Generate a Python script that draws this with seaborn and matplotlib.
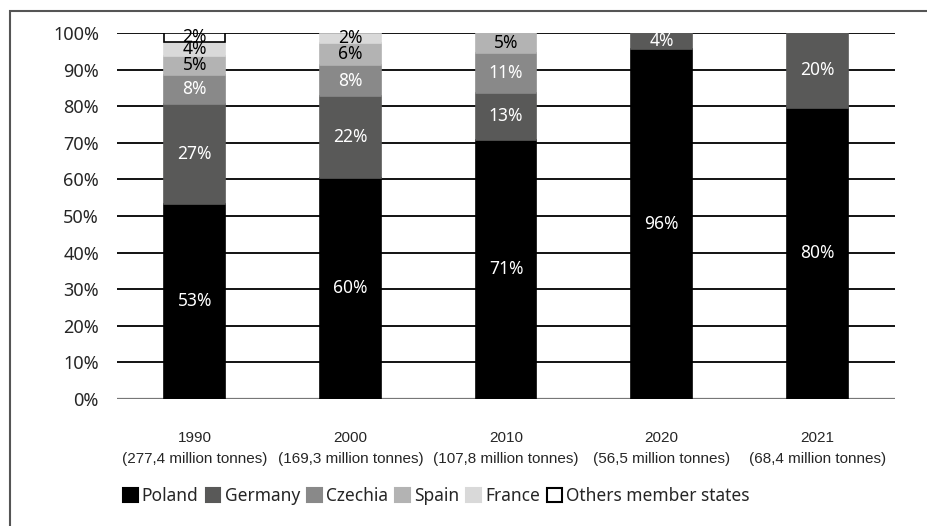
import numpy as np
import pandas as pd
import seaborn as sns
import matplotlib.pyplot as plt
from matplotlib.patches import Patch, Rectangle

# Data (share of hard coal production, %)
years = ['1990', '2000', '2010', '2020', '2021']
tonnes = ['277,4', '169,3', '107,8', '56,5', '68,4']
countries = ['Poland', 'Germany', 'Czechia', 'Spain', 'France', 'Others member states']
poland = [53.3, 60.4, 70.8, 95.6, 79.6]
germany = [27.4, 22.4, 12.8, 4.4, 20.4]
czechia = [7.9, 8.4, 11.0, 0, 0]
spain = [5.1, 6.2, 5.4, 0, 0]
france = [3.9, 2.4, 0, 0, 0]
others = [2.4, 0, 0, 0, 0]

colors = ['#000000', '#595958', '#898989', '#b3b3b3', '#d9d9d9', '#ffffff']
label_colors = ['white', 'white', 'white', 'black', 'black', 'black']

df = pd.DataFrame({'Poland': poland, 'Germany': germany, 'Czechia': czechia,
                   'Spain': spain, 'France': france, 'Others member states': others})
df['year'] = [f'{y}\n({t} million tonnes)' for y, t in zip(years, tonnes)]

sns.set_style('white')
plt.rcParams['font.family'] = ['Noto Sans', 'DejaVu Sans']

fig = plt.figure(figsize=(9.28, 5.26), dpi=100)
ax = fig.add_axes([117 / 928, 1 - 399 / 526, (895 - 117) / 928, 366 / 526])

bottom = np.zeros(len(years))
for name, col, lcol in zip(countries, colors, label_colors):
    vals = df[name].to_numpy()
    edge = 'black' if name.startswith('Others') else col
    sns.barplot(data=df, x='year', y=name, bottom=bottom, color=col, width=0.39,
                edgecolor=edge, linewidth=1.2, saturation=1, ax=ax, zorder=3)
    cont = ax.containers[-1]
    for p, v in zip(cont.patches, vals):
        if v == 0:
            p.set_visible(False)
    labels = [f'{round(v)}%' if v > 0 else '' for v in vals]
    ax.bar_label(cont, labels=labels, label_type='center', color=lcol,
                 fontsize=12.5, zorder=4)
    bottom = bottom + vals

ax.set_ylim(0, 100)
ax.set_xlim(-0.5, len(years) - 0.5)
ax.set_yticks(range(0, 101, 10))
ax.set_yticklabels([f'{v}%' for v in range(0, 101, 10)], fontsize=13)
ax.set_xlabel('')
ax.set_ylabel('')
for t in ax.get_xticklabels():
    t.set_family(['Liberation Sans', 'DejaVu Sans'])
    t.set_fontsize(11)
    t.set_linespacing(1.65)
ax.tick_params(axis='x', pad=23, length=0)
ax.tick_params(axis='y', pad=13, length=0)
ax.grid(axis='y', color='black', linewidth=1.3, zorder=0)
ax.set_axisbelow(True)
sns.despine(ax=ax, left=True, top=True, right=True, bottom=True)
ax.axhline(0, color='#777777', linewidth=1.6, zorder=2)

handles = [Patch(facecolor=c, edgecolor='black' if n.startswith('Others') else c,
                 linewidth=1.5, label=n) for n, c in zip(countries, colors)]
fig.legend(handles=handles, loc='center', bbox_to_anchor=(0.47, 1 - 496 / 526), ncol=6,
           frameon=False, fontsize=12.5, handlelength=0.85, handleheight=0.85,
           handletextpad=0.25, columnspacing=0.4)

# outer frame
fig.add_artist(Rectangle((10 / 928, -0.05), 1.0, 1 - 11 / 526 + 0.05, transform=fig.transFigure,
                         fill=False, edgecolor='#555555', linewidth=1.5))

fig.savefig('out.png', dpi=100)
